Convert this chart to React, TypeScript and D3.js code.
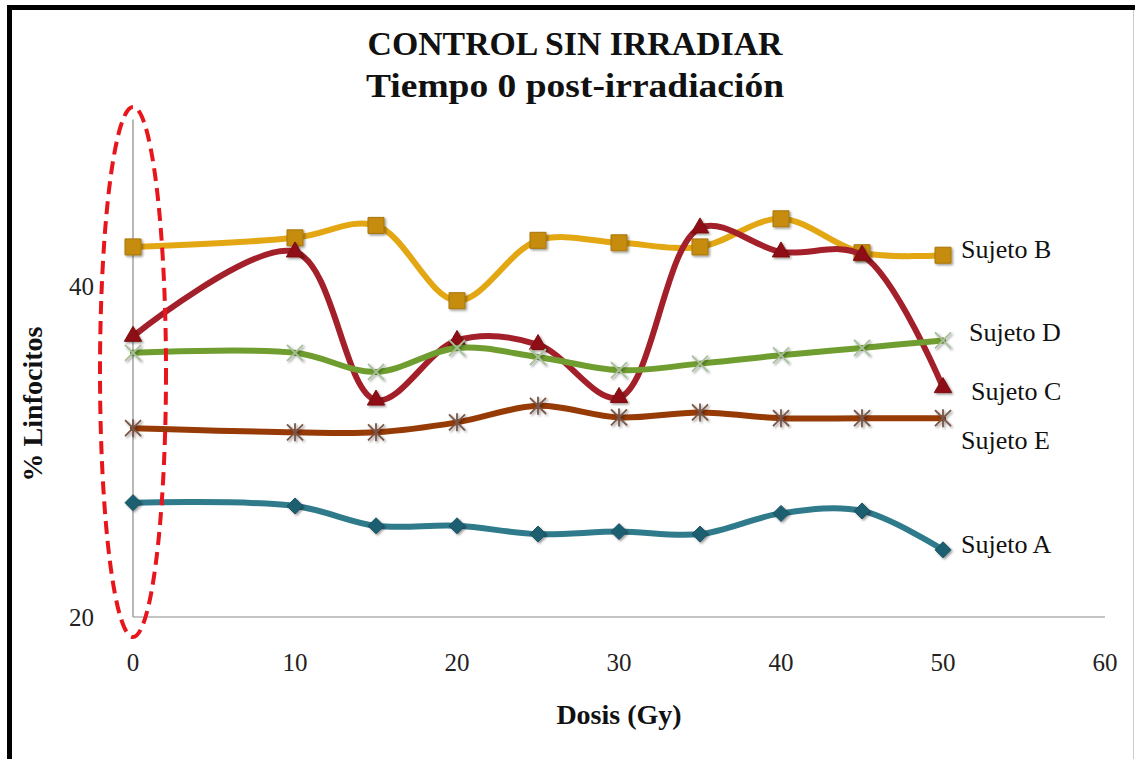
import React, { useRef, useEffect } from 'react';
import * as d3 from 'd3';

// Dosis (Gy) en el eje X
const doses = [0, 10, 15, 20, 25, 30, 35, 40, 45, 50];

// % Linfocitos por sujeto
const sujetoA = [26.85, 26.65, 25.45, 25.45, 24.95, 25.1, 24.95, 26.2, 26.35, 24.0];
const sujetoB = [42.3, 42.85, 43.6, 39.05, 42.7, 42.55, 42.3, 44.0, 41.95, 41.8];
const sujetoC = [36.9, 42.0, 33.05, 36.65, 36.4, 33.2, 43.45, 42.0, 41.8, 33.8];
const sujetoD = [35.9, 35.9, 34.75, 36.2, 35.65, 34.85, 35.25, 35.75, 36.2, 36.65];
const sujetoE = [31.35, 31.1, 31.1, 31.7, 32.7, 32.0, 32.3, 31.95, 31.95, 31.95];

const seriesNames = ['Sujeto A', 'Sujeto B', 'Sujeto C', 'Sujeto D', 'Sujeto E'];
const xTicks = [0, 10, 20, 30, 40, 50, 60];
const yTicks = [20, 40];

const W = 1135;
const H = 759;
const FONT = '"Liberation Serif", "Times New Roman", serif';

type Marker = 'diamond' | 'square' | 'triangle' | 'x' | 'star';

interface Style {
    line: string;
    fill: string;
    stroke: string;
    marker: Marker;
    dx: number; // desplazamiento de la etiqueta
    dy: number;
}

const styles: Style[] = [
    { line: '#2f7b8c', fill: '#1e5e70', stroke: '#1a5263', marker: 'diamond', dx: 18, dy: -5 },
    { line: '#e3a714', fill: '#c68c0c', stroke: '#a97508', marker: 'square', dx: 18, dy: -5 },
    { line: '#a3202a', fill: '#8e0e12', stroke: '#7a0c10', marker: 'triangle', dx: 28, dy: 4 },
    { line: '#6f9d2f', fill: 'none', stroke: '#a9bf9a', marker: 'x', dx: 26, dy: -7 },
    { line: '#963a06', fill: 'none', stroke: '#7a5546', marker: 'star', dx: 18, dy: 23 },
];

const markerPath = (m: Marker): string => {
    switch (m) {
        case 'diamond':
            return 'M0,-8L8,0L0,8L-8,0Z';
        case 'square':
            return 'M-8,-8H8V8H-8Z';
        case 'triangle':
            return d3.symbol(d3.symbolTriangle, 130)()!;
        case 'x':
            return 'M-8,-8L8,8M8,-8L-8,8';
        case 'star':
            return 'M-8,-8L8,8M8,-8L-8,8M0,-9V9';
    }
};

const Chart: React.FC = () => {
    const ref = useRef<SVGSVGElement>(null);

    useEffect(() => {
        if (ref.current) drawChart();
    }, []);

    const drawChart = () => {
        const svg = d3.select(ref.current);
        svg.selectAll('*').remove();

        const x = d3.scaleLinear().domain([0, 60]).range([133, 1105]);
        const y = d3.scaleLinear().domain([20, 50]).range([616, 119.5]);

        const defs = svg.append('defs');
        const f = defs.append('filter').attr('id', 'shadow')
            .attr('x', '-50%').attr('y', '-50%').attr('width', '200%').attr('height', '200%');
        f.append('feDropShadow').attr('dx', 1.5).attr('dy', 1.5)
            .attr('stdDeviation', 1.3).attr('flood-color', '#000').attr('flood-opacity', 0.4);

        svg.append('rect').attr('width', W).attr('height', H).attr('fill', '#fff');

        // marco
        svg.append('rect').attr('x', 7).attr('y', 5).attr('width', W - 7).attr('height', 5).attr('fill', '#000');
        svg.append('rect').attr('x', 7).attr('y', 5).attr('width', 5).attr('height', H - 5).attr('fill', '#000');
        svg.append('line').attr('x1', W - 1.5).attr('x2', W - 1.5).attr('y1', 10).attr('y2', H)
            .attr('stroke', '#ccc').attr('stroke-width', 1);

        // títulos
        svg.append('text').attr('x', 575).attr('y', 55).attr('text-anchor', 'middle')
            .attr('font-family', FONT).attr('font-weight', 'bold').attr('font-size', 33)
            .attr('fill', '#111').attr('textLength', 415).attr('lengthAdjust', 'spacingAndGlyphs')
            .text('CONTROL SIN IRRADIAR');
        svg.append('text').attr('x', 575).attr('y', 97).attr('text-anchor', 'middle')
            .attr('font-family', FONT).attr('font-weight', 'bold').attr('font-size', 33)
            .attr('fill', '#111').attr('textLength', 418).attr('lengthAdjust', 'spacingAndGlyphs')
            .text('Tiempo 0 post-irradiación');

        // ejes
        svg.append('line').attr('x1', x(0)).attr('x2', x(0)).attr('y1', y(50)).attr('y2', y(20) + 1)
            .attr('stroke', '#8a8a8a').attr('stroke-width', 1.2);
        svg.append('line').attr('x1', x(0)).attr('x2', x(60)).attr('y1', y(20) + 1).attr('y2', y(20) + 1)
            .attr('stroke', '#8a8a8a').attr('stroke-width', 1.2);

        svg.append('g').selectAll('text').data(xTicks).enter().append('text')
            .attr('x', d => x(d)).attr('y', y(20) + 55).attr('text-anchor', 'middle')
            .attr('font-family', FONT).attr('font-size', 25).attr('fill', '#222')
            .text(d => d);
        svg.append('g').selectAll('text').data(yTicks).enter().append('text')
            .attr('x', 94).attr('y', d => y(d) + 10).attr('text-anchor', 'end')
            .attr('font-family', FONT).attr('font-size', 25).attr('fill', '#222')
            .text(d => d);

        svg.append('text').attr('x', 619).attr('y', 724).attr('text-anchor', 'middle')
            .attr('font-family', FONT).attr('font-weight', 'bold').attr('font-size', 28)
            .attr('fill', '#111').text('Dosis (Gy)');
        svg.append('text').attr('transform', 'translate(42,404) rotate(-90)').attr('text-anchor', 'middle')
            .attr('font-family', FONT).attr('font-weight', 'bold').attr('font-size', 28)
            .attr('fill', '#111').text('% Linfocitos');

        // series
        const all = [sujetoA, sujetoB, sujetoC, sujetoD, sujetoE];
        const line = d3.line<[number, number]>()
            .x(d => x(d[0])).y(d => y(d[1]))
            .curve(d3.curveCatmullRom.alpha(0.5));

        all.forEach((vals, i) => {
            const s = styles[i];
            const pts = doses.map((d, j) => [d, vals[j]] as [number, number]);
            const g = svg.append('g');
            g.append('path').datum(pts).attr('d', line)
                .attr('fill', 'none').attr('stroke', s.line).attr('stroke-width', 6)
                .attr('stroke-linejoin', 'round').attr('stroke-linecap', 'round');
            g.selectAll('path.m').data(pts).enter().append('path').attr('class', 'm')
                .attr('d', markerPath(s.marker))
                .attr('transform', d => `translate(${x(d[0])},${y(d[1])})`)
                .attr('fill', s.fill).attr('stroke', s.stroke)
                .attr('stroke-width', s.fill === 'none' ? 1.8 : 1)
                .attr('filter', 'url(#shadow)');
            const last = pts[pts.length - 1];
            g.append('text').attr('x', x(last[0]) + s.dx).attr('y', y(last[1]) + s.dy + 8)
                .attr('font-family', FONT).attr('font-size', 26).attr('fill', '#111')
                .text(seriesNames[i]);
        });

        // elipse punteada
        svg.append('ellipse').attr('cx', x(0)).attr('cy', 372).attr('rx', 33).attr('ry', 265)
            .attr('fill', 'none').attr('stroke', '#e8151b').attr('stroke-width', 4)
            .attr('stroke-dasharray', '13 7');
    };

    return <svg ref={ref} width={W} height={H} style={{ display: 'block' }} />;
};

const App = () => (
    <div style={{ position: 'absolute', left: 0, top: 0 }}>
        <Chart />
    </div>
);

export default App;
